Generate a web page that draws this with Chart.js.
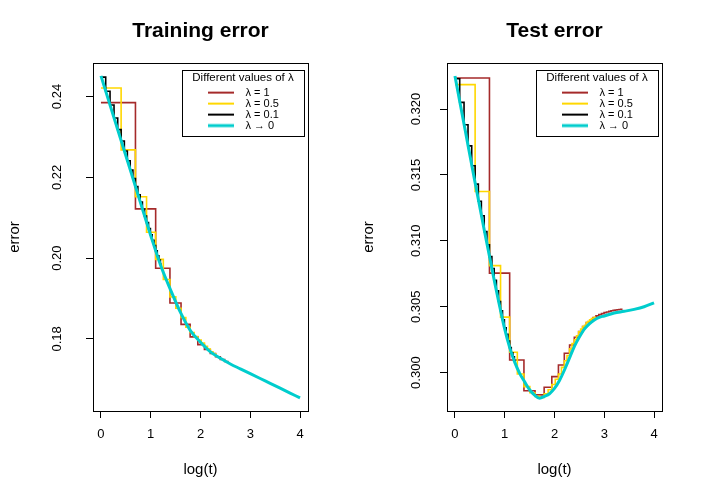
<!DOCTYPE html>
<html>
<head>
<meta charset="utf-8">
<script src="https://cdn.jsdelivr.net/npm/chart.js@4.4.1/dist/chart.umd.min.js"></script>
<style>
  html, body { margin: 0; padding: 0; background: #fff; }
  #wrap { position: relative; width: 708px; height: 491px; }
  canvas { position: absolute; top: 0; }
  #train { left: 0; }
  #test { left: 354px; }
</style>
</head>
<body>
<div id="wrap">
  <canvas id="train" width="354" height="491"></canvas>
  <canvas id="test" width="354" height="491"></canvas>
</div>
<script>
// common
const xTicks = [0, 1, 2, 3, 4];
const xTickLabels = ['0', '1', '2', '3', '4'];
const seriesNames = ['λ = 1', 'λ = 0.5', 'λ = 0.1', 'λ → 0'];
const seriesColors = ['#a52a2a', '#ffd700', '#000000', '#00cdcd'];

// Training error
const trainYTicks = [0.18, 0.20, 0.22, 0.24];
const trainYTickLabels = ['0.18', '0.20', '0.22', '0.24'];
const trainL1X = [0, 0.693, 1.099, 1.386, 1.609, 1.792, 1.946, 2.079, 2.197, 2.303, 2.398, 2.485, 2.565];
const trainL1 = [0.2385, 0.2122, 0.1975, 0.1889, 0.1836, 0.1805, 0.1786, 0.1774, 0.1764, 0.1756, 0.1749, 0.1744, 0.1744];
const trainL05X = [0, 0.405, 0.693, 0.916, 1.099, 1.253, 1.386, 1.504, 1.609, 1.705, 1.792, 1.872, 1.946, 2.015, 2.079, 2.140, 2.197, 2.251, 2.303, 2.351];
const trainL05 = [0.2421, 0.2268, 0.2152, 0.2064, 0.1997, 0.1947, 0.1904, 0.1876, 0.1853, 0.1829, 0.1816, 0.1806, 0.1797, 0.1790, 0.1782, 0.1775, 0.1768, 0.1763, 0.1758, 0.1758];
const trainL01X = [0, 0.0953, 0.1823, 0.2624, 0.3365, 0.4055, 0.4700, 0.5306, 0.5878, 0.6419, 0.6931, 0.7419, 0.7885, 0.8329, 0.8755, 0.9163, 0.9555, 0.9933, 1.0296, 1.0647, 1.0986, 1.1314, 1.1632, 1.1939, 1.2238];
const trainL01 = [0.2448, 0.2413, 0.2379, 0.2347, 0.2318, 0.2290, 0.2265, 0.2241, 0.2218, 0.2197, 0.2177, 0.2157, 0.2139, 0.2121, 0.2104, 0.2088, 0.2073, 0.2058, 0.2044, 0.2031, 0.2018, 0.2006, 0.1995, 0.1985, 0.1985];
const trainL0X = [0, 0.2, 0.4, 0.6, 0.8, 1.0, 1.2, 1.4, 1.6, 1.8, 2.0, 2.2, 2.4, 2.6, 2.8, 3.0, 3.2, 3.4, 3.6, 3.8, 4.0];
const trainL0 = [0.2451, 0.2372, 0.2293, 0.2214, 0.2135, 0.2056, 0.1982, 0.1921, 0.1865, 0.1820, 0.1792, 0.1768, 0.1752, 0.1738, 0.1726, 0.1714, 0.1702, 0.1690, 0.1678, 0.1666, 0.1654];

// Test error
const testYTicks = [0.300, 0.305, 0.310, 0.315, 0.320];
const testYTickLabels = ['0.300', '0.305', '0.310', '0.315', '0.320'];
const testL1X = [0, 0.693, 1.099, 1.386, 1.609, 1.792, 1.946, 2.079, 2.197, 2.303, 2.398, 2.485, 2.565, 2.639, 2.708, 2.773, 2.833, 2.890, 2.944, 2.996, 3.045, 3.091, 3.135, 3.178, 3.219, 3.258, 3.296, 3.332, 3.367];
const testL1 = [0.32235, 0.30755, 0.30096, 0.29863, 0.29831, 0.29889, 0.29970, 0.30058, 0.30147, 0.30210, 0.30269, 0.30311, 0.30349, 0.30380, 0.30400, 0.30418, 0.30431, 0.30440, 0.30448, 0.30455, 0.30460, 0.30465, 0.30469, 0.30472, 0.30475, 0.30477, 0.30479, 0.30480, 0.30480];
const testL05X = [0, 0.405, 0.693, 0.916, 1.099, 1.253, 1.386, 1.504, 1.609, 1.705, 1.792, 1.872, 1.946, 2.015, 2.079, 2.140, 2.197, 2.251, 2.303, 2.351, 2.398, 2.442, 2.485, 2.526, 2.565, 2.603, 2.639, 2.674, 2.708, 2.741, 2.773, 2.803, 2.833];
const testL05 = [0.32185, 0.31374, 0.30812, 0.30421, 0.30155, 0.29990, 0.29894, 0.29848, 0.29820, 0.29812, 0.29840, 0.29870, 0.29910, 0.29950, 0.29990, 0.30040, 0.30090, 0.30130, 0.30180, 0.30220, 0.30250, 0.30280, 0.30310, 0.30330, 0.30350, 0.30360, 0.30380, 0.30390, 0.30400, 0.30410, 0.30415, 0.30420, 0.30420];
const testL01X = [0, 0.0953, 0.1823, 0.2624, 0.3365, 0.4055, 0.4700, 0.5306, 0.5878, 0.6419, 0.6931, 0.7419, 0.7885, 0.8329, 0.8755, 0.9163, 0.9555, 0.9933, 1.0296, 1.0647, 1.0986, 1.1314, 1.1632, 1.1939, 1.2238];
const testL01 = [0.3223, 0.3205, 0.3188, 0.3172, 0.3157, 0.3143, 0.3130, 0.3119, 0.3107, 0.3097, 0.3088, 0.3079, 0.3070, 0.3062, 0.3054, 0.3047, 0.3040, 0.3034, 0.3029, 0.3024, 0.3019, 0.3015, 0.3012, 0.3009, 0.3009];
const testL0X = [0, 0.2, 0.4, 0.6, 0.8, 0.9, 1.0, 1.1, 1.2, 1.3, 1.4, 1.5, 1.6, 1.7, 1.8, 1.9, 2.0, 2.1, 2.2, 2.3, 2.4, 2.5, 2.6, 2.7, 2.8, 2.9, 3.0, 3.2, 3.4, 3.6, 3.8, 4.0];
const testL0 = [0.3225, 0.3185, 0.3145, 0.3106, 0.3068, 0.3050, 0.3033, 0.3019, 0.3008, 0.29995, 0.2993, 0.2987, 0.2983, 0.29806, 0.2982, 0.2984, 0.2988, 0.2994, 0.3002, 0.3011, 0.3020, 0.3027, 0.3033, 0.3037, 0.3040, 0.3042, 0.3043, 0.30452, 0.30465, 0.3048, 0.3050, 0.3053];

Chart.defaults.font.family = "'Liberation Sans', Arial, Helvetica, sans-serif";
Chart.defaults.color = '#000';

// small picture used as the legend key: blank gap, then the line
function legendIcon(color, width) {
  const c = document.createElement('canvas');
  c.width = 58;
  c.height = 8;
  const g = c.getContext('2d');
  g.strokeStyle = color;
  g.lineWidth = width;
  g.beginPath();
  g.moveTo(26, 4);
  g.lineTo(52, 4);
  g.stroke();
  return c;
}

function points(xs, ys) {
  return xs.map((x, i) => ({ x: x, y: ys[i] }));
}

function makeDatasets(series) {
  return series.map((s, i) => {
    const smooth = i === 3;
    return {
      label: seriesNames[i],
      data: points(s[0], s[1]),
      borderColor: seriesColors[i],
      borderWidth: smooth ? 3 : 1.6,
      stepped: smooth ? false : 'before',
      cubicInterpolationMode: smooth ? 'monotone' : 'default',
      borderJoinStyle: 'miter',
      pointRadius: 0,
      pointStyle: legendIcon(seriesColors[i], smooth ? 3 : 2),
      fill: false,
      order: 3 - i
    };
  });
}

// box around the plot, and the legend moved into the top-right corner with its frame
const framePlugin = {
  id: 'frame',
  afterLayout(chart) {
    const a = chart.chartArea;
    const lg = chart.legend;
    lg.right = a.right - 4;
    lg.left = lg.right - 122;
    lg.width = 122;
    lg.top = a.top + 7;
    lg.bottom = lg.top + 66;
    lg.height = 66;
  },
  afterDraw(chart) {
    const a = chart.chartArea;
    const lg = chart.legend;
    const ctx = chart.ctx;
    ctx.save();
    ctx.strokeStyle = '#000';
    ctx.lineWidth = 1;
    ctx.strokeRect(Math.round(a.left) + 0.5, Math.round(a.top) + 0.5, Math.round(a.width), Math.round(a.height));
    ctx.strokeRect(Math.round(lg.left) + 0.5, Math.round(lg.top) + 0.5, Math.round(lg.width), Math.round(lg.height));
    ctx.restore();
  }
};

function makePanel(id, title, yMin, yMax, yTicks, yTickLabels, yPad, series) {
  return new Chart(document.getElementById(id), {
    type: 'line',
    data: { datasets: makeDatasets(series) },
    options: {
      responsive: false,
      animation: false,
      devicePixelRatio: 1,
      events: [],
      layout: { padding: { left: 0, right: 46, top: 0, bottom: 0 } },
      scales: {
        x: {
          type: 'linear',
          min: -0.16,
          max: 4.16,
          afterBuildTicks: s => { s.ticks = xTicks.map(v => ({ value: v })); },
          afterFit: s => { s.height = 80; },
          ticks: {
            callback: (v, i) => xTickLabels[i],
            padding: 9,
            maxRotation: 0,
            autoSkip: false,
            font: { size: 13 }
          },
          grid: { drawOnChartArea: false, tickLength: 7, tickColor: '#000', tickWidth: 1 },
          border: { display: false },
          title: { display: true, text: 'log(t)', font: { size: 15 }, padding: { top: 0, bottom: 12 } }
        },
        y: {
          type: 'linear',
          min: yMin,
          max: yMax,
          afterBuildTicks: s => { s.ticks = yTicks.map(v => ({ value: v })); },
          afterFit: s => { s.width = 93; },
          ticks: {
            callback: (v, i) => yTickLabels[i],
            minRotation: 90,
            crossAlign: 'center',
            padding: yPad,
            autoSkip: false,
            font: { size: 13 }
          },
          grid: { drawOnChartArea: false, tickLength: 7, tickColor: '#000', tickWidth: 1 },
          border: { display: false },
          title: { display: true, text: 'error', font: { size: 15 }, padding: { top: 6, bottom: 0 } }
        }
      },
      plugins: {
        title: {
          display: true,
          text: title,
          fullSize: false,
          font: { size: 21, weight: 'bold' },
          padding: { top: 18.4, bottom: 19.4 }
        },
        legend: {
          display: true,
          position: 'chartArea',
          align: 'start',
          labels: {
            usePointStyle: true,
            pointStyleWidth: 58,
            padding: 0,
            font: { size: 11 },
            sort: (a, b) => a.datasetIndex - b.datasetIndex
          },
          title: {
            display: true,
            text: 'Different values of λ',
            font: { size: 11.5 },
            padding: { top: 2.5, bottom: 0.8 }
          }
        },
        tooltip: { enabled: false }
      }
    },
    plugins: [framePlugin]
  });
}

makePanel('train', 'Training error', 0.16216, 0.2483, trainYTicks, trainYTickLabels, 15.5, [
  [trainL1X, trainL1], [trainL05X, trainL05], [trainL01X, trainL01], [trainL0X, trainL0]
]);
makePanel('test', 'Test error', 0.29709, 0.32349, testYTicks, testYTickLabels, 7, [
  [testL1X, testL1], [testL05X, testL05], [testL01X, testL01], [testL0X, testL0]
]);
</script>
</body>
</html>
